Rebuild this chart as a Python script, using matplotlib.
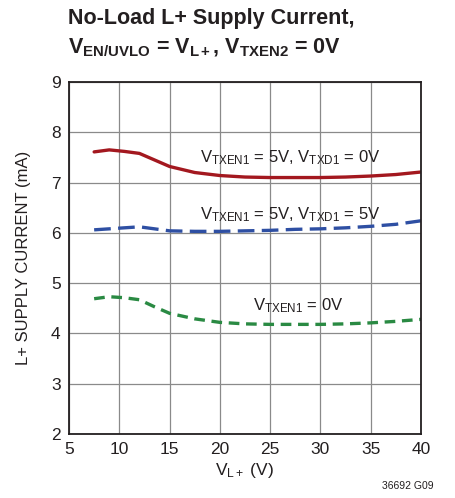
import numpy as np
import matplotlib.pyplot as plt

plt.rcParams['font.family'] = ['Liberation Sans', 'DejaVu Sans']
plt.rcParams['mathtext.fontset'] = 'custom'
plt.rcParams['mathtext.rm'] = 'Liberation Sans'
plt.rcParams['mathtext.it'] = 'Liberation Sans'
plt.rcParams['mathtext.bf'] = 'Liberation Sans:bold'

# supply voltage V_L+ (V)
v_lplus = [7.5, 9, 10.5, 12, 13.5, 15, 17.5, 20, 22.5, 25, 27.5, 30, 32.5, 35, 37.5, 40]

# L+ supply current (mA)
i_txd0 = [7.61, 7.65, 7.62, 7.58, 7.45, 7.32, 7.20, 7.14, 7.11, 7.10, 7.10, 7.10, 7.11, 7.13, 7.16, 7.21]
i_txd5 = [6.06, 6.08, 6.10, 6.12, 6.08, 6.04, 6.03, 6.03, 6.04, 6.05, 6.07, 6.08, 6.10, 6.13, 6.17, 6.24]
i_off = [4.69, 4.73, 4.71, 4.67, 4.53, 4.40, 4.29, 4.22, 4.19, 4.18, 4.18, 4.18, 4.19, 4.21, 4.24, 4.28]

fig = plt.figure(figsize=(4.55, 4.98), dpi=100)
ax = fig.add_axes([69 / 455, 1 - 434 / 498, 352 / 455, 352 / 498])

ax.plot(v_lplus, i_txd0, color='#a3181f', lw=2.4, solid_capstyle='round')
ax.plot(v_lplus, i_txd5, color='#2e4fa3', lw=2.4, dashes=(5, 2.2))
ax.plot(v_lplus, i_off, color='#2a8a43', lw=2.4, dashes=(3.2, 2))

lab = dict(fontsize=12, ha='center', va='center', color='#231f20')
ax.text(27.0, 7.49, r'V$_{\mathrm{TXEN1}}$ = 5V, V$_{\mathrm{TXD1}}$ = 0V', **lab)
ax.text(27.0, 6.37, r'V$_{\mathrm{TXEN1}}$ = 5V, V$_{\mathrm{TXD1}}$ = 5V', **lab)
ax.text(27.8, 4.55, r'V$_{\mathrm{TXEN1}}$ = 0V', **lab)

ax.set_xlim(5, 40)
ax.set_ylim(2, 9)
ax.set_xticks(np.arange(5, 41, 5))
ax.set_yticks(np.arange(2, 10, 1))
ax.grid(True, color='#8a8a8a', lw=0.9)
ax.tick_params(length=0, labelsize=12.5, pad=6, colors='#231f20')
for s in ax.spines.values():
    s.set_linewidth(1.3)
    s.set_color('#231f20')

ax.set_xlabel(r'V$_{\mathrm{L+}}$ (V)', fontsize=12.5, color='#231f20', labelpad=3)
ax.set_ylabel('L+ SUPPLY CURRENT (mA)', fontsize=12, color='#231f20', labelpad=14)

fig.text(68 / 455, 1 - 8 / 498,
         'No-Load L+ Supply Current,\n'
         r'V$_{\mathbf{EN/UVLO}}$ = V$_{\mathbf{L+}}$, V$_{\mathbf{TXEN2}}$ = 0V',
         fontsize=15.5, fontweight='bold', ha='left', va='top', color='#231f20',
         linespacing=1.45)
fig.text(434 / 455, 1 - 491 / 498, '36692 G09', fontsize=7.5, ha='right',
         va='bottom', color='#231f20')

fig.savefig('out.png', dpi=100)
